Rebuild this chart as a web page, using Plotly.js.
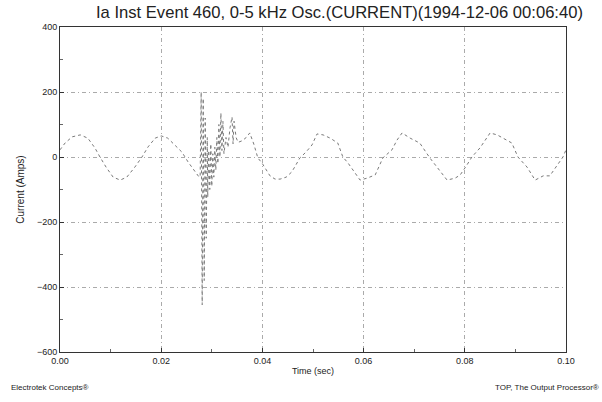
<!DOCTYPE html>
<html>
<head>
<meta charset="utf-8">
<script src="https://cdn.plot.ly/plotly-3.0.1.min.js"></script>
<style>html,body{margin:0;padding:0;background:#fff;}#chart{width:602px;height:402px;}</style>
</head>
<body>
<div id="chart"></div>
<script>
const timeSec = [
0.0000,0.0010,0.0024,0.0040,0.0055,0.0069,0.0079,0.0091,0.0105,0.0119,0.0132,0.0148,0.0162,0.0174,0.0188,0.0200,0.0213,0.0227,0.0241,0.0253,0.0265,0.0275,
0.0277,0.0279,0.0281,0.0283,0.0285,0.0287,0.0289,0.0291,0.0292,0.0294,0.0296,0.0298,0.0300,0.0302,0.0304,0.0306,0.0308,0.0310,0.0312,0.0314,0.0316,0.0318,0.0320,0.0322,0.0324,0.0328,0.0332,0.0336,0.0340,0.0342,0.0344,0.0348,0.0352,0.0360,0.0368,0.0375,0.0383,
0.0391,0.0399,0.0407,0.0415,0.0425,0.0435,0.0447,0.0458,0.0466,0.0474,0.0486,0.0498,0.0508,0.0520,0.0534,0.0549,0.0559,0.0569,0.0579,0.0593,0.0607,0.0623,0.0638,0.0656,0.0666,0.0676,0.0692,0.0711,0.0731,0.0747,0.0765,0.0781,0.0791,0.0804,0.0814,0.0830,0.0850,0.0864,0.0875,0.0893,0.0905,0.0923,0.0939,0.0955,0.0968,0.0982,0.0994,0.1000
];
const currentAmps = [
22,43,62,68,58,28,0,-31,-62,-71,-62,-31,0,31,58,65,58,37,15,-15,-40,-62,
-60,200,-455,180,-380,120,-250,60,-123,20,-100,40,-90,10,-62,30,-40,60,-20,100,0,135,20,110,10,60,30,90,123,40,110,60,45,50,60,74,40,
-3,-18,-40,-58,-68,-68,-62,-46,-25,-3,15,37,71,68,58,43,0,-18,-40,-71,-65,-55,-3,22,52,74,58,43,-3,-34,-71,-65,-55,-25,0,28,74,68,58,43,0,-31,-71,-58,-58,-25,0,22
];
const xTickVals = [0, 0.02, 0.04, 0.06, 0.08, 0.10];
const xTickText = ['0.00','0.02','0.04','0.06','0.08','0.10'];
const yTickVals = [-600,-400,-200,0,200,400];
const chartTitle = 'Ia Inst Event 460, 0-5 kHz Osc.(CURRENT)(1994-12-06 00:06:40)';

const trace = {
  x: timeSec, y: currentAmps, type: 'scatter', mode: 'lines',
  line: {color: '#7a7a7a', width: 1, dash: 'dot'}, hoverinfo: 'skip'
};
const fontFam = 'Arial, "Liberation Sans", sans-serif';
const layout = {
  width: 602, height: 402,
  margin: {l: 60, r: 36, t: 27, b: 50},
  paper_bgcolor: '#fff', plot_bgcolor: '#fff',
  showlegend: false,
  font: {family: fontFam, color: '#222', size: 9},
  xaxis: {
    range: [0, 0.1], tickvals: xTickVals, ticktext: xTickText,
    showline: true, linecolor: '#333', linewidth: 1, mirror: true,
    ticks: 'inside', ticklen: 4, tickcolor: '#333',
    showgrid: true, gridcolor: '#aaa', griddash: '4px,3px,1px,3px', gridwidth: 1,
    zeroline: false, tickfont: {size: 9},
    minor: {dtick: 0.01, ticks: 'inside', ticklen: 3, tickcolor: '#666', showgrid: false},
    title: {text: 'Time (sec)', font: {size: 9}, standoff: 2}
  },
  yaxis: {
    range: [-600, 400], tickvals: yTickVals,
    showline: true, linecolor: '#333', linewidth: 1, mirror: true,
    ticks: 'inside', ticklen: 4, tickcolor: '#333',
    showgrid: true, gridcolor: '#aaa', griddash: '4px,3px,1px,3px', gridwidth: 1,
    zeroline: false, tickfont: {size: 9},
    minor: {dtick: 100, ticks: 'inside', ticklen: 3, tickcolor: '#666', showgrid: false},
    title: {text: 'Current (Amps)', font: {size: 10}, standoff: 10}
  },
  annotations: [
    {text: chartTitle, xref: 'paper', yref: 'paper', x: 0.553, y: 1.046, xanchor: 'center', yanchor: 'middle', showarrow: false, font: {size: 16.6, family: fontFam, color: '#222'}},
    {text: 'Electrotek Concepts®', xref: 'paper', yref: 'paper', x: -0.1, y: -0.11, xanchor: 'left', yanchor: 'middle', showarrow: false, font: {size: 8, family: fontFam, color: '#222'}},
    {text: 'TOP, The Output Processor®', xref: 'paper', yref: 'paper', x: 1.07, y: -0.11, xanchor: 'right', yanchor: 'middle', showarrow: false, font: {size: 8, family: fontFam, color: '#222'}}
  ]
};
Plotly.newPlot('chart', [trace], layout, {displayModeBar: false, staticPlot: true});
</script>
</body>
</html>
